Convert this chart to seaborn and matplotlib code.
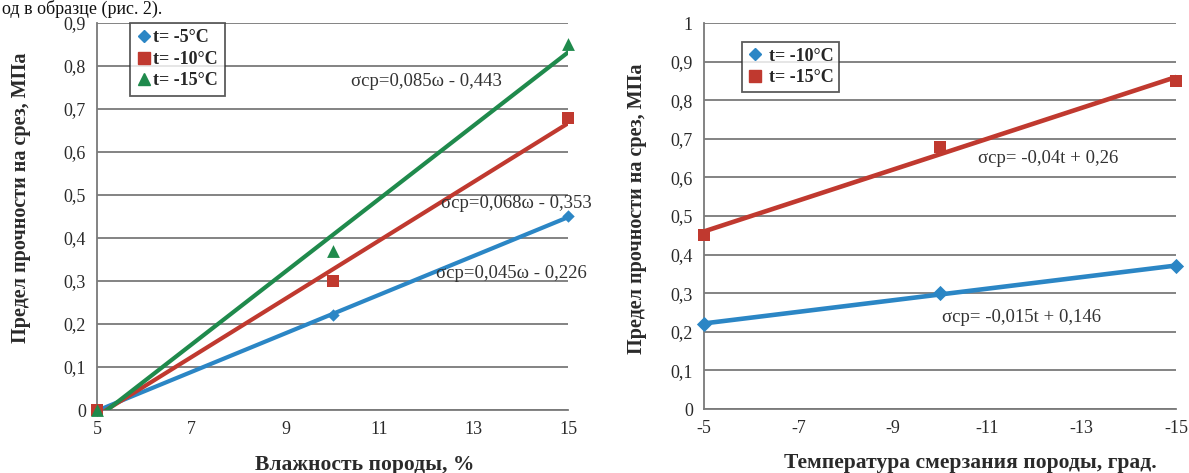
import numpy as np
import pandas as pd
import matplotlib
matplotlib.use("Agg")
import matplotlib.pyplot as plt
import seaborn as sns
from matplotlib.lines import Line2D

# ---- data ----
moisture = [5, 10, 15]
shear_m5 = [0.0, 0.22, 0.45]
shear_m10 = [0.0, 0.30, 0.68]
shear_m15 = [0.0, 0.37, 0.85]
left_labels = ["t= -5°C", "t= -10°C", "t= -15°C"]
left_eq = ["σср=0,085ω - 0,443", "σср=0,068ω - 0,353", "σср=0,045ω - 0,226"]

temperature = [-5, -10, -15]
shear_w_a = [0.22, 0.30, 0.37]
shear_w_b = [0.45, 0.68, 0.85]
right_labels = ["t= -10°C", "t= -15°C"]
right_eq = ["σср= -0,04t + 0,26", "σср= -0,015t + 0,146"]

left_yticks = [0, 0.1, 0.2, 0.3, 0.4, 0.5, 0.6, 0.7, 0.8, 0.9]
right_yticks = [0, 0.1, 0.2, 0.3, 0.4, 0.5, 0.6, 0.7, 0.8, 0.9, 1.0]
left_xticks = [5, 7, 9, 11, 13, 15]
right_xticks = [-5, -7, -9, -11, -13, -15]

sns.set_theme(style="white")
plt.rcParams['font.family'] = ['Liberation Serif', 'DejaVu Serif']

BLUE = "#2b86c5"
RED = "#c0392f"
GREEN = "#1f8a4c"
GRID = "#7a7a7a"
TXT = "#2a2a2a"

fig = plt.figure(figsize=(11.89, 4.73), dpi=100)
ax1 = fig.add_axes([97/1189, 63/473, 471/1189, 387/473])
ax2 = fig.add_axes([704/1189, 64/473, 472/1189, 386/473])

def fmt(v):
    return ("%g" % round(v, 2)).replace(".", ",")

def style(ax, xticks, yticks, xlim, ylim, xlabel):
    ax.set_xlim(*xlim)
    ax.set_ylim(*ylim)
    ax.set_yticks(yticks)
    ax.set_yticklabels([fmt(v) for v in yticks], fontsize=13)
    ax.set_xticks(xticks)
    ax.set_xticklabels([str(v) for v in xticks], fontsize=13)
    ax.yaxis.grid(True, color=GRID, linewidth=1.3)
    ax.set_axisbelow(True)
    for s in ["top", "right"]:
        ax.spines[s].set_visible(False)
    for s in ["left", "bottom"]:
        ax.spines[s].set_color(GRID)
        ax.spines[s].set_linewidth(1.3)
    ax.tick_params(axis="both", direction="out", length=4, width=1.2,
                   color=GRID, labelcolor=TXT, pad=4)
    ax.set_xlabel(xlabel, fontsize=15.5, fontweight="bold", color=TXT)
    ax.set_ylabel("Предел прочности на срез, МПа", fontsize=14.5, fontweight="bold",
                  color=TXT)

# ---- left chart ----
dfl = pd.DataFrame({"w": moisture * 3,
                    "s": shear_m5 + shear_m10 + shear_m15,
                    "g": sum([[l] * 3 for l in left_labels], [])})
markers_l = ["D", "s", "^"]
sizes_l = [40, 80, 85]
colors_l = [BLUE, RED, GREEN]
for lab, m, sz, c in zip(left_labels, markers_l, sizes_l, colors_l):
    d = dfl[dfl.g == lab]
    sns.regplot(data=d, x="w", y="s", ax=ax1, ci=None, truncate=True,
                marker=m, color=c,
                scatter_kws={"s": sz, "zorder": 4, "linewidths": 0,
                             "alpha": 1, "clip_on": False},
                line_kws={"linewidth": 3, "zorder": 3})
style(ax1, left_xticks, left_yticks, (5, 15), (0, 0.9), "Влажность породы, %")
ax1.text(10.4, 0.765, left_eq[0], fontsize=13.5, color="#333333", va="center")
ax1.text(12.3, 0.480, left_eq[1], fontsize=13.5, color="#333333", va="center")
ax1.text(12.2, 0.318, left_eq[2], fontsize=13.5, color="#333333", va="center")

h1 = [Line2D([], [], marker=m, color=c, linestyle="none", markersize=ms)
      for m, c, ms in zip(markers_l, colors_l, [6, 9, 9])]
leg1 = ax1.legend(h1, left_labels, loc="upper left", bbox_to_anchor=(0.07, 1.0),
                  frameon=True, fancybox=False, edgecolor="#333333", handletextpad=0.05,
                  handlelength=0.9, borderpad=0.35, labelspacing=0.25,
                  borderaxespad=0.0,
                  prop={"weight": "bold", "size": 13})
leg1.get_frame().set_linewidth(1.3)

# ---- right chart ----
dfr = pd.DataFrame({"t": temperature * 2,
                    "s": shear_w_a + shear_w_b,
                    "g": sum([[l] * 3 for l in right_labels], [])})
markers_r = ["D", "s"]
sizes_r = [60, 85]
colors_r = [BLUE, RED]
for lab, m, sz, c in zip(right_labels, markers_r, sizes_r, colors_r):
    d = dfr[dfr.g == lab]
    sns.regplot(data=d, x="t", y="s", ax=ax2, ci=None, truncate=True,
                marker=m, color=c,
                scatter_kws={"s": sz, "zorder": 4, "linewidths": 0,
                             "alpha": 1, "clip_on": False},
                line_kws={"linewidth": 3.3, "zorder": 3})
style(ax2, right_xticks, right_yticks, (-5, -15), (0, 1.0),
      "Температура смерзания породы, град.")
ax2.text(-10.8, 0.648, right_eq[0], fontsize=13.5, color="#333333", va="center")
ax2.text(-10.05, 0.237, right_eq[1], fontsize=13.5, color="#333333", va="center")

h2 = [Line2D([], [], marker=m, color=c, linestyle="none", markersize=ms)
      for m, c, ms in zip(markers_r, colors_r, [6, 9])]
leg2 = ax2.legend(h2, right_labels, loc="upper left", bbox_to_anchor=(0.08, 0.95),
                  frameon=True, fancybox=False, edgecolor="#333333", handletextpad=0.3,
                  handlelength=0.9, borderpad=0.3, labelspacing=0.25,
                  borderaxespad=0.0,
                  prop={"weight": "bold", "size": 13})
leg2.get_frame().set_linewidth(1.3)

ax1.xaxis.set_label_coords(0.569, -0.115)
ax2.xaxis.set_label_coords(0.564, -0.115)
ax1.yaxis.set_label_coords(-0.14, 0.548)
ax2.yaxis.set_label_coords(-0.12, 0.52)

# document text fragment at the very top (cut off in the source scan)
fig.text(0.002, 1 - 14/473, "од в образце (рис. 2).", fontsize=13, va="baseline",
         ha="left", color="#111111")

fig.savefig("out.png", dpi=100)
